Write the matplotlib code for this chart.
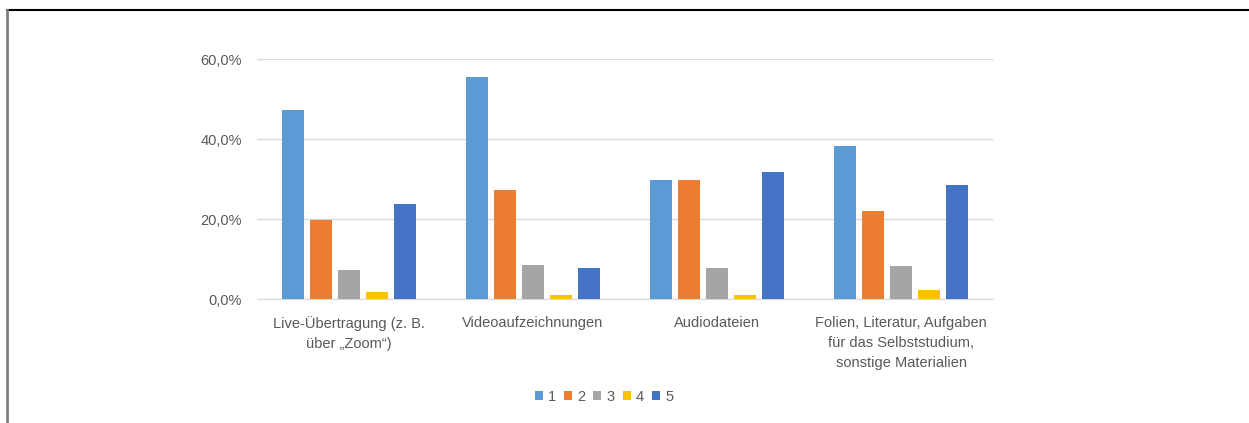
import matplotlib
matplotlib.use("Agg")
import matplotlib.pyplot as plt
from matplotlib.lines import Line2D
from matplotlib.ticker import FuncFormatter
import numpy as np

plt.rcParams['font.family'] = ['Liberation Sans', 'DejaVu Sans']

categories = ["Live-Übertragung (z. B.\nüber „Zoom“)",
              "Videoaufzeichnungen",
              "Audiodateien",
              "Folien, Literatur, Aufgaben\nfür das Selbststudium,\nsonstige Materialien"]
series_names = ["1", "2", "3", "4", "5"]
s1 = [47.2, 55.5, 29.7, 38.3]
s2 = [19.8, 27.2, 29.7, 22.1]
s3 = [7.4, 8.5, 7.7, 8.2]
s4 = [1.8, 1.0, 1.0, 2.2]
s5 = [23.7, 7.7, 31.8, 28.5]
series = [s1, s2, s3, s4, s5]
colors = ["#5B9BD5", "#ED7D31", "#A5A5A5", "#FFC000", "#4472C4"]
yticks = [0, 20, 40, 60]

W, H = 1249, 423
fig = plt.figure(figsize=(W / 100, H / 100), dpi=100)
ax = fig.add_axes([257 / W, 1 - 299.3 / H, (993 - 257) / W, (299.3 - 59) / H])

x = np.arange(len(categories))
step = 0.152
bw = 0.12
handles = []
for i, (vals, c) in enumerate(zip(series, colors)):
    b = ax.bar(x + (i - 2) * step, vals, width=bw, color=c, zorder=3, label=series_names[i])
    handles.append(b)

ax.set_xlim(-0.5, len(categories) - 0.5)
ax.set_ylim(0, 60)
ax.set_yticks(yticks)
ax.yaxis.set_major_formatter(FuncFormatter(lambda v, p: f"{v:.1f}%".replace(".", ",")))
ax.grid(axis='y', color='#D9D9D9', linewidth=1, zorder=0)
for s in ['top', 'right', 'left']:
    ax.spines[s].set_visible(False)
ax.spines['bottom'].set_color('#D9D9D9')
ax.set_xticks(x)
ax.set_xticklabels(categories, linespacing=1.55)
ax.tick_params(axis='x', length=0, pad=12, labelsize=10.5, labelcolor='#595959')
ax.tick_params(axis='y', length=0, pad=11, labelsize=10.5, labelcolor='#595959')

leg = fig.legend(handles=handles, labels=series_names, loc='center',
                 bbox_to_anchor=(604 / W, 1 - 397 / H), ncol=5, frameon=False,
                 handlelength=0.55, handleheight=0.55, handletextpad=0.35,
                 columnspacing=0.55, fontsize=10.5, labelcolor='#595959')

# frame lines of the picture
fig.add_artist(Line2D([7 / W, 1], [1 - 10 / H, 1 - 10 / H], color='black', linewidth=1.5))
fig.add_artist(Line2D([7 / W, 7 / W], [0, 1 - 10 / H], color='#808080', linewidth=2))

fig.savefig("out.png", dpi=100)
